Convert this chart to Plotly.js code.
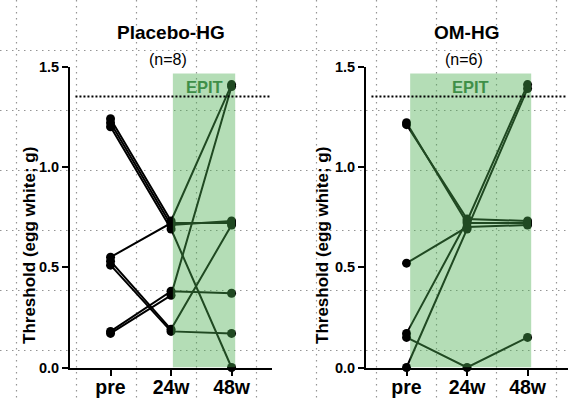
<!DOCTYPE html>
<html>
<head>
<meta charset="utf-8">
<script src="https://cdn.plot.ly/plotly-3.0.1.min.js"></script>
<style>html,body{margin:0;padding:0;background:#fff;}#chart{width:570px;height:399px;}</style>
</head>
<body>
<div id="chart"></div>
<script>
// ---- data ----
const categories = ['pre', '24w', '48w'];
const yTickVals = [0, 0.5, 1.0, 1.5];

const placeboPre = [1.24, 1.22, 1.20, 0.55, 0.53, 0.51, 0.18, 0.17];
const placebo24w = [0.73, 0.71, 0.69, 0.72, 0.19, 0.18, 0.38, 0.36];
const placebo48w = [1.41, 0.73, 0.00, 0.72, 0.71, 0.17, 0.37, 1.40];

const omPre = [1.22, 1.21, 0.52, 0.17, 0.15, 0.00];
const om24w = [0.72, 0.74, 0.70, 0.73, 0.00, 0.69];
const om48w = [0.72, 0.73, 0.71, 1.41, 0.15, 1.39];

const threshold = 1.35;              // EPIT threshold line
const placeboEpit = [1.03, 2.06];    // EPIT window (category index units)
const omEpit = [0.06, 2.06];
const epitTop = 1.465;

// ---- traces ----
const traces = [];
function addSubjects(pre, w24, w48, xa, ya) {
  for (let i = 0; i < pre.length; i++) {
    traces.push({
      type: 'scatter', mode: 'lines+markers',
      x: categories, y: [pre[i], w24[i], w48[i]],
      xaxis: xa, yaxis: ya,
      line: {color: '#000', width: 2},
      marker: {color: '#000', size: 9},
      cliponaxis: false, showlegend: false, hoverinfo: 'skip'
    });
  }
}
addSubjects(placeboPre, placebo24w, placebo48w, 'x', 'y');
addSubjects(omPre, om24w, om48w, 'x2', 'y2');

// ---- layout ----
const W = 570, H = 399;
const FONT = 'Liberation Sans, Arial, sans-serif';

// faint dotted page grid behind the chart
const gridLine = {color: '#959595', width: 1.2, dash: '1.5px,4.5px'};
const gridShapes = [];
for (let v = 16.5; v < W; v += 60) {
  gridShapes.push({type: 'line', xref: 'paper', yref: 'paper', x0: v / W, x1: v / W, y0: 1, y1: 0,
    line: gridLine, layer: 'below'});
}
for (let v = 50.5; v < H; v += 60) {
  gridShapes.push({type: 'line', xref: 'paper', yref: 'paper', x0: 0, x1: 1, y0: 1 - v / H, y1: 1 - v / H,
    line: gridLine, layer: 'below'});
}

const yDom = [(H - 367.5) / H, (H - 66.5) / H];
const xRange = [-0.67, 2.66];
const panelW = 201.5;
const leftX0 = 70, rightX0 = 366;

function panelX(x0, anchor) {
  return {
    domain: [x0 / W, (x0 + panelW) / W], anchor: anchor,
    type: 'category', range: xRange, autorange: false,
    showline: true, linecolor: '#000', linewidth: 2,
    ticks: 'outside', ticklen: 6, tickwidth: 2, tickcolor: '#000',
    ticklabelstandoff: -5,
    showgrid: false, zeroline: false,
    tickfont: {family: FONT, color: '#000', weight: 'bold', size: 19.5}
  };
}
function panelY(anchor) {
  return {
    domain: yDom, anchor: anchor,
    range: [0, 1.5], autorange: false,
    tickvals: yTickVals, tickformat: '.1f',
    showline: true, linecolor: '#000', linewidth: 2,
    ticks: 'outside', ticklen: 6, tickwidth: 2, tickcolor: '#000',
    showgrid: false, zeroline: false,
    tickfont: {family: FONT, color: '#000', weight: 'bold', size: 14.5}
  };
}

const greenFill = 'rgba(76,175,80,0.42)';
function epitShapes(xa, ya, win) {
  return [
    {type: 'rect', xref: xa, yref: ya, x0: win[0], x1: win[1], y0: 0, y1: epitTop,
     fillcolor: greenFill, line: {width: 0}, layer: 'above'},
    {type: 'line', xref: xa, yref: ya, x0: -0.58, x1: 2.64, y0: threshold, y1: threshold,
     line: {color: '#000', width: 2, dash: '2px,2px'}, layer: 'above'}
  ];
}

function panelAnnotations(xa, ya, title, n, win, ytShift) {
  return [
    {xref: xa + ' domain', yref: 'paper', x: 0.5, y: (H - 32) / H, yanchor: 'middle',
     text: '<b>' + title + '</b>', showarrow: false,
     font: {family: FONT, size: 19, color: '#000'}},
    {xref: xa + ' domain', yref: 'paper', x: 0.485, y: (H - 59) / H, yanchor: 'middle',
     text: n, showarrow: false,
     font: {family: FONT, size: 16, color: '#000'}},
    {xref: xa, yref: ya, x: (win[0] + win[1]) / 2, y: 1.40, yanchor: 'middle',
     text: '<b>EPIT</b>', showarrow: false,
     font: {family: FONT, size: 16.5, color: '#3f8f48'}},
    {xref: xa + ' domain', yref: 'paper', x: 0, y: (H - 229) / H, xshift: ytShift, yshift: -17,
     xanchor: 'center', yanchor: 'middle', textangle: -90,
     text: '<b>Threshold (egg white; g)</b>', showarrow: false,
     font: {family: FONT, size: 17, color: '#000'}}
  ];
}

const layout = {
  width: W, height: H,
  margin: {l: 0, r: 0, t: 0, b: 0, pad: 0},
  paper_bgcolor: '#fff', plot_bgcolor: 'rgba(0,0,0,0)',
  showlegend: false,
  xaxis: panelX(leftX0, 'y'),
  yaxis: panelY('x'),
  xaxis2: panelX(rightX0, 'y2'),
  yaxis2: panelY('x2'),
  shapes: gridShapes.concat(epitShapes('x', 'y', placeboEpit), epitShapes('x2', 'y2', omEpit)),
  annotations: panelAnnotations('x', 'y', 'Placebo-HG', '(n=8)', placeboEpit, -41)
    .concat(panelAnnotations('x2', 'y2', 'OM-HG', '(n=6)', omEpit, -44))
};

Plotly.newPlot('chart', traces, layout, {staticPlot: true, displayModeBar: false});
</script>
</body>
</html>
